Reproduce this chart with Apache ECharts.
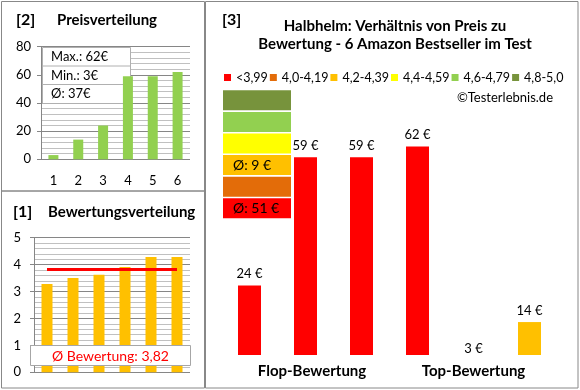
<!DOCTYPE html>
<html><head><meta charset="utf-8">
<script src="https://cdn.jsdelivr.net/npm/echarts@6/dist/echarts.min.js"></script>
<style>html,body{margin:0;padding:0;background:#fff}#c{width:580px;height:390px}</style>
</head><body><div id="c"></div>
<script>
// ---- data ----
const priceCats = ['1','2','3','4','5','6'];
const prices = [3, 14, 24, 59, 59, 62];
const priceInfo = ['Max.: 62€', 'Min.: 3€', 'Ø: 37€'];
const ratingCats = ['1','2','3','4','5','6'];
const ratings = [3.28, 3.5, 3.62, 3.91, 4.28, 4.28];
const avgRatingText = 'Ø Bewertung: 3,82';
const avgRatingLine = [3.82, 3.82, 3.82, 3.82, 3.82, 3.82];
const productCats = ['1','2','3','4','5','6'];
const groupLabels = ['Flop-Bewertung', 'Top-Bewertung'];
const classNames = ['<3,99', '4,0-4,19', '4,2-4,39', '4,4-4,59', '4,6-4,79', '4,8-5,0'];
const classPrices = [
  [24, 59, 59, 62, null, null],
  [null, null, null, null, null, null],
  [null, null, null, null, 3, 14],
  [null, null, null, null, null, null],
  [null, null, null, null, null, null],
  [null, null, null, null, null, null]
];
const classAvg = [51, null, 9, null, null, null];
const classBoxes = [1, 1, 1, 1, 1, 1];
const mainTitle = ['Halbhelm: Verhältnis von Preis zu', 'Bewertung - 6 Amazon Bestseller im Test'];

// ---- styles ----
const classColors = ['#FF0000', '#E36C09', '#FFC000', '#FFFF00', '#92D050', '#77933C'];
const FONT = 'Lato, "Liberation Sans", sans-serif';
const gridMajor = '#868686', gridMinor = '#C0C0C0', border = '#888888';
const MAIN_MIN = 5;

function txt(text, x, y, size, opts) {
  opts = opts || {};
  return {
    type: 'text', z: 50,
    style: {
      text: text, x: x, y: y,
      font: (opts.bold ? 'bold ' : '') + size + 'px ' + FONT,
      fill: opts.color || '#000',
      align: opts.align || 'left', textAlign: opts.align || 'left',
      verticalAlign: 'middle', textVerticalAlign: 'middle'
    }
  };
}
function rect(x, y, w, h, fill, stroke, z) {
  return { type: 'rect', z: z, shape: { x: x, y: y, width: w, height: h },
    style: { fill: fill, stroke: stroke, lineWidth: 1 } };
}
function hline(x1, x2, y, z) {
  return { type: 'line', z: z, shape: { x1: x1, y1: y, x2: x2, y2: y }, style: { stroke: '#B0B0B0', lineWidth: 1 } };
}

const chart = echarts.init(document.getElementById('c'), null, { renderer: 'canvas' });

const valueAxisCommon = {
  axisLine: { show: true, lineStyle: { color: gridMajor } },
  axisTick: { show: true, length: 4, lineStyle: { color: gridMajor } },
  splitLine: { show: true, lineStyle: { color: gridMajor } },
  minorTick: { show: false, splitNumber: 5 },
  minorSplitLine: { show: true, lineStyle: { color: gridMinor } },
  axisLabel: { color: '#000', fontSize: 13, fontFamily: FONT, margin: 10 }
};

const mainSeries = classNames.map((n, i) => ({
  name: n, type: 'bar', xAxisIndex: 2, yAxisIndex: 2,
  barWidth: 23, barGap: '-100%',
  itemStyle: { color: classColors[i] },
  data: classPrices[i].map(v => (v != null && v < MAIN_MIN) ? { value: v, label: { distance: 0 } } : v),
  label: { show: true, position: 'top', distance: 5, formatter: '{c} €', color: '#000', fontSize: 13, fontFamily: FONT }
}));

const option = {
  animation: false,
  textStyle: { fontFamily: FONT },
  grid: [
    { left: 41, top: 46.7, width: 149, height: 112.6 },
    { left: 34, top: 237.7, width: 156, height: 134.6 },
    { left: 221.5, top: 135.4, width: 336, height: 219.6 },
    { left: 223, top: 89.5, width: 68, height: 129.6 }
  ],
  xAxis: [
    { gridIndex: 0, type: 'category', data: priceCats,
      axisLine: { show: false }, axisTick: { show: false },
      axisLabel: { color: '#000', fontSize: 13, fontFamily: FONT, margin: 15 } },
    { gridIndex: 1, type: 'category', data: ratingCats,
      axisLine: { show: false }, axisTick: { show: false }, axisLabel: { show: false } },
    { gridIndex: 2, type: 'category', data: productCats,
      axisLine: { show: false }, axisTick: { show: false }, axisLabel: { show: false } },
    { gridIndex: 3, type: 'value', min: 0, max: 1, show: false },
    { gridIndex: 2, type: 'category', data: groupLabels, position: 'bottom',
      axisLine: { show: false }, axisTick: { show: false },
      axisLabel: { fontSize: 15, fontWeight: 'bold', color: '#000', fontFamily: FONT, margin: 9,
        formatter: (v, i) => i === 0 ? '{a|' + v + '}' : v,
        rich: { a: { fontSize: 15, fontWeight: 'bold', color: '#000', fontFamily: FONT, padding: [0, 0, 0, 13] } } } }
  ],
  yAxis: [
    Object.assign({ gridIndex: 0, type: 'value', min: 0, max: 80, interval: 20 }, valueAxisCommon),
    Object.assign({ gridIndex: 1, type: 'value', min: 0, max: 5, interval: 1 }, valueAxisCommon, {
      axisLabel: { color: '#000', fontSize: 13, fontFamily: FONT, margin: 13 } }),
    { gridIndex: 2, type: 'value', min: MAIN_MIN, max: 65, startValue: MAIN_MIN, show: false },
    { gridIndex: 3, type: 'category', data: classNames, show: false }
  ],
  legend: {
    data: classNames, left: 224, top: 71, width: 356, padding: 0,
    icon: 'rect', itemWidth: 7, itemHeight: 7, itemGap: 2,
    textStyle: { fontSize: 12.5, color: '#000', fontFamily: FONT },
    selectedMode: false
  },
  series: [
    { name: 'Preis', type: 'bar', xAxisIndex: 0, yAxisIndex: 0, barWidth: 10, z: 5,
      itemStyle: { color: '#92D050' }, data: prices },
    { name: 'Bewertung', type: 'bar', xAxisIndex: 1, yAxisIndex: 1, barWidth: 11,
      itemStyle: { color: '#FFC000' }, data: ratings },
    { name: 'Ø', type: 'line', xAxisIndex: 1, yAxisIndex: 1, symbol: 'none', z: 6,
      lineStyle: { color: '#FF0000', width: 3 }, data: avgRatingLine },
    { name: 'Klassen', type: 'bar', xAxisIndex: 3, yAxisIndex: 3, barWidth: 20,
      data: classBoxes.map((v, i) => ({ value: v, itemStyle: { color: classColors[i] } })),
      label: { show: true, position: 'insideLeft', distance: 10, color: '#000', fontSize: 14, fontFamily: FONT,
        formatter: p => classAvg[p.dataIndex] == null ? '' : 'Ø: ' + classAvg[p.dataIndex] + ' €' } }
  ].concat(mainSeries),
  graphic: [
    rect(1.5, 1.5, 203, 189.5, 'none', border, 0),
    rect(1.5, 191, 203, 197, 'none', border, 0),
    rect(205.5, 1.5, 372.5, 386.5, 'none', border, 0),
    // info box (between grid lines and bars)
    rect(42.5, 47.5, 88, 56, '#fff', '#B0B0B0', 1),
    hline(42.5, 130.5, 66, 1),
    hline(42.5, 130.5, 84.5, 1),
    txt(priceInfo[0], 51, 57, 13),
    txt(priceInfo[1], 51, 75.5, 13),
    txt(priceInfo[2], 51, 94, 13),
    // rating box
    rect(30.5, 345.5, 160, 20, '#fff', '#A6A6A6', 40),
    txt(avgRatingText, 110.5, 356, 14, { color: '#FF0000', align: 'center' }),
    // titles
    txt('[2]', 16, 20, 16, { bold: true }),
    txt('Preisverteilung', 57, 20, 15, { bold: true }),
    txt('[1]', 13, 212, 16, { bold: true }),
    txt('Bewertungsverteilung', 48, 212, 15, { bold: true }),
    txt('[3]', 222, 20, 16, { bold: true }),
    txt(mainTitle[0], 395, 26, 15, { bold: true, align: 'center' }),
    txt(mainTitle[1], 395, 44.5, 15, { bold: true, align: 'center' }),
    txt('©Testerlebnis.de', 553, 98, 13, { align: 'right' })
  ]
};
chart.setOption(option);
</script></body></html>
